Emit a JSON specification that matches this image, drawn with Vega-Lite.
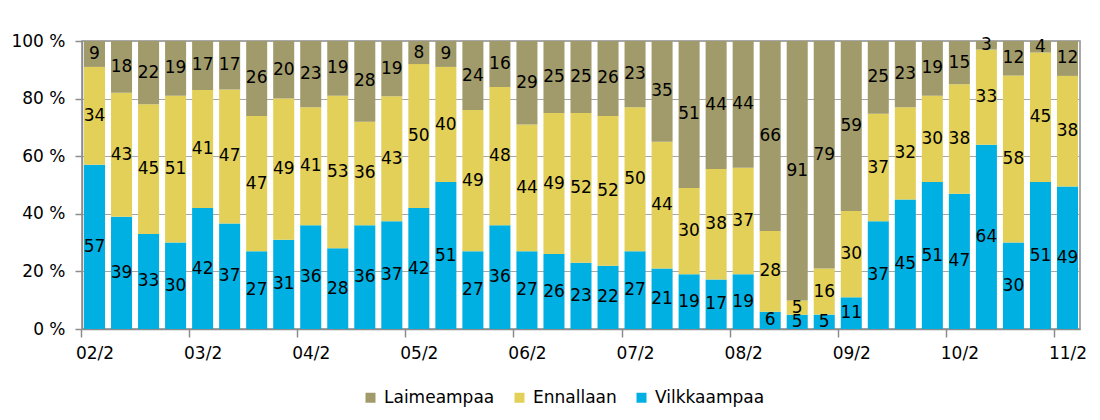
{
  "$schema": "https://vega.github.io/schema/vega-lite/v6.json",
  "width": 998,
  "height": 288,
  "autosize": {"type": "none"},
  "padding": {"left": 82, "top": 41, "right": 20, "bottom": 91},
  "background": "white",
  "config": {
    "font": "DejaVu Sans",
    "view": {"stroke": "#8C8C8C", "strokeWidth": 1.5}
  },
  "data": {
    "values": [
      {"kausi": "02/2", "Vilkkaampaa": 57, "Ennallaan": 34, "Laimeampaa": 9},
      {"kausi": "02/3", "Vilkkaampaa": 39, "Ennallaan": 43, "Laimeampaa": 18},
      {"kausi": "02/4", "Vilkkaampaa": 33, "Ennallaan": 45, "Laimeampaa": 22},
      {"kausi": "03/1", "Vilkkaampaa": 30, "Ennallaan": 51, "Laimeampaa": 19},
      {"kausi": "03/2", "Vilkkaampaa": 42, "Ennallaan": 41, "Laimeampaa": 17},
      {"kausi": "03/3", "Vilkkaampaa": 37, "Ennallaan": 47, "Laimeampaa": 17},
      {"kausi": "03/4", "Vilkkaampaa": 27, "Ennallaan": 47, "Laimeampaa": 26},
      {"kausi": "04/1", "Vilkkaampaa": 31, "Ennallaan": 49, "Laimeampaa": 20},
      {"kausi": "04/2", "Vilkkaampaa": 36, "Ennallaan": 41, "Laimeampaa": 23},
      {"kausi": "04/3", "Vilkkaampaa": 28, "Ennallaan": 53, "Laimeampaa": 19},
      {"kausi": "04/4", "Vilkkaampaa": 36, "Ennallaan": 36, "Laimeampaa": 28},
      {"kausi": "05/1", "Vilkkaampaa": 37, "Ennallaan": 43, "Laimeampaa": 19},
      {"kausi": "05/2", "Vilkkaampaa": 42, "Ennallaan": 50, "Laimeampaa": 8},
      {"kausi": "05/3", "Vilkkaampaa": 51, "Ennallaan": 40, "Laimeampaa": 9},
      {"kausi": "05/4", "Vilkkaampaa": 27, "Ennallaan": 49, "Laimeampaa": 24},
      {"kausi": "06/1", "Vilkkaampaa": 36, "Ennallaan": 48, "Laimeampaa": 16},
      {"kausi": "06/2", "Vilkkaampaa": 27, "Ennallaan": 44, "Laimeampaa": 29},
      {"kausi": "06/3", "Vilkkaampaa": 26, "Ennallaan": 49, "Laimeampaa": 25},
      {"kausi": "06/4", "Vilkkaampaa": 23, "Ennallaan": 52, "Laimeampaa": 25},
      {"kausi": "07/1", "Vilkkaampaa": 22, "Ennallaan": 52, "Laimeampaa": 26},
      {"kausi": "07/2", "Vilkkaampaa": 27, "Ennallaan": 50, "Laimeampaa": 23},
      {"kausi": "07/3", "Vilkkaampaa": 21, "Ennallaan": 44, "Laimeampaa": 35},
      {"kausi": "07/4", "Vilkkaampaa": 19, "Ennallaan": 30, "Laimeampaa": 51},
      {"kausi": "08/1", "Vilkkaampaa": 17, "Ennallaan": 38, "Laimeampaa": 44},
      {"kausi": "08/2", "Vilkkaampaa": 19, "Ennallaan": 37, "Laimeampaa": 44},
      {"kausi": "08/3", "Vilkkaampaa": 6, "Ennallaan": 28, "Laimeampaa": 66},
      {"kausi": "08/4", "Vilkkaampaa": 5, "Ennallaan": 5, "Laimeampaa": 91},
      {"kausi": "09/1", "Vilkkaampaa": 5, "Ennallaan": 16, "Laimeampaa": 79},
      {"kausi": "09/2", "Vilkkaampaa": 11, "Ennallaan": 30, "Laimeampaa": 59},
      {"kausi": "09/3", "Vilkkaampaa": 37, "Ennallaan": 37, "Laimeampaa": 25},
      {"kausi": "09/4", "Vilkkaampaa": 45, "Ennallaan": 32, "Laimeampaa": 23},
      {"kausi": "10/1", "Vilkkaampaa": 51, "Ennallaan": 30, "Laimeampaa": 19},
      {"kausi": "10/2", "Vilkkaampaa": 47, "Ennallaan": 38, "Laimeampaa": 15},
      {"kausi": "10/3", "Vilkkaampaa": 64, "Ennallaan": 33, "Laimeampaa": 3},
      {"kausi": "10/4", "Vilkkaampaa": 30, "Ennallaan": 58, "Laimeampaa": 12},
      {"kausi": "11/1", "Vilkkaampaa": 51, "Ennallaan": 45, "Laimeampaa": 4},
      {"kausi": "11/2", "Vilkkaampaa": 49, "Ennallaan": 38, "Laimeampaa": 12}
    ]
  },
  "transform": [
    {"fold": ["Vilkkaampaa", "Ennallaan", "Laimeampaa"], "as": ["sarja", "arvo"]},
    {"calculate": "indexof(['Vilkkaampaa','Ennallaan','Laimeampaa'], datum.sarja)", "as": "jarj"},
    {"stack": "arvo", "groupby": ["kausi"], "sort": [{"field": "jarj", "order": "ascending"}], "offset": "normalize", "as": ["y0", "y1"]},
    {"calculate": "(datum.y0 + datum.y1) / 2", "as": "ym"}
  ],
  "encoding": {
    "x": {
      "field": "kausi",
      "type": "ordinal",
      "sort": null,
      "scale": {"paddingInner": 0.222, "paddingOuter": 0.074},
      "axis": {
        "title": null,
        "values": ["02/2", "03/2", "04/2", "05/2", "06/2", "07/2", "08/2", "09/2", "10/2", "11/2"],
        "bandPosition": 0,
        "tickOffset": -3,
        "labelOffset": 3,
        "labelAngle": 0,
        "tickSize": 8,
        "labelPadding": 8,
        "labelFontSize": 17,
        "labelColor": "#000000",
        "domainColor": "#8C8C8C",
        "domainWidth": 1.5,
        "tickColor": "#8C8C8C",
        "tickWidth": 1.5,
        "grid": false
      }
    }
  },
  "layer": [
    {
      "mark": {"type": "bar"},
      "encoding": {
        "y": {
          "field": "y0",
          "type": "quantitative",
          "scale": {"domain": [0, 1]},
          "axis": {
            "title": null,
            "values": [0, 0.2, 0.4, 0.6, 0.8, 1],
            "labelExpr": "format(datum.value * 100, 'd') + ' %'",
            "grid": true,
            "gridColor": "#A6A6A6",
            "gridWidth": 1,
            "domainColor": "#8C8C8C",
            "domainWidth": 1.5,
            "tickColor": "#8C8C8C",
            "tickWidth": 1.5,
            "tickSize": 7,
            "labelPadding": 10,
            "labelFontSize": 17,
            "labelColor": "#000000"
          }
        },
        "y2": {"field": "y1"},
        "color": {
          "field": "sarja",
          "type": "nominal",
          "scale": {
            "domain": ["Laimeampaa", "Ennallaan", "Vilkkaampaa"],
            "range": ["#A19B6B", "#E3D059", "#00B0E2"]
          },
          "legend": {
            "title": null,
            "orient": "none",
            "legendX": 280,
            "legendY": 348,
            "direction": "horizontal",
            "symbolType": "square",
            "symbolSize": 100,
            "symbolStrokeWidth": 0,
            "labelFontSize": 17,
            "labelColor": "#000000",
            "columnPadding": 16,
            "labelOffset": 5
          }
        }
      }
    },
    {
      "mark": {"type": "text", "fontSize": 17, "color": "#000000", "baseline": "middle", "align": "center"},
      "encoding": {
        "y": {
          "field": "ym",
          "type": "quantitative",
          "axis": {
            "title": null,
            "values": [0, 0.2, 0.4, 0.6, 0.8, 1],
            "labelExpr": "format(datum.value * 100, 'd') + ' %'",
            "grid": true,
            "gridColor": "#A6A6A6",
            "gridWidth": 1,
            "domainColor": "#8C8C8C",
            "domainWidth": 1.5,
            "tickColor": "#8C8C8C",
            "tickWidth": 1.5,
            "tickSize": 7,
            "labelPadding": 10,
            "labelFontSize": 17,
            "labelColor": "#000000"
          }
        },
        "text": {"field": "arvo", "type": "quantitative"}
      }
    }
  ]
}
